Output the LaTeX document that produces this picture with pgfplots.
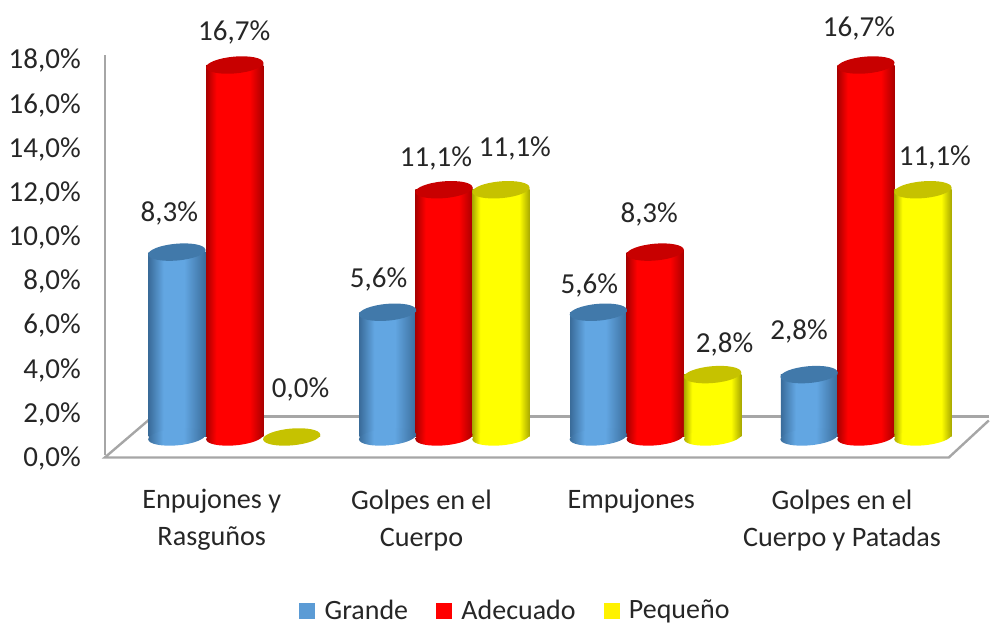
\documentclass[border=0pt]{standalone}
\usepackage{pgfplots}
\usepackage{pgfplotstable}
\usepackage{fontspec}
\setmainfont{Carlito}
\pgfplotsset{compat=1.18}
\definecolor{wallgray}{HTML}{A6A6A6}
\definecolor{txt}{HTML}{262626}
\definecolor{legblue}{HTML}{5B9BD5}
\definecolor{bmid}{HTML}{62A6E2}
\definecolor{bedge}{HTML}{3A6C9A}
\definecolor{btop}{HTML}{4179AA}
\definecolor{rmid}{HTML}{FF0000}
\definecolor{redge}{HTML}{A80000}
\definecolor{rtop}{HTML}{C80000}
\definecolor{ymid}{HTML}{FFFF00}
\definecolor{yedge}{HTML}{A8A800}
\definecolor{ytop}{HTML}{C6C200}
\pgfdeclarehorizontalshading{cylblue}{100bp}{color(0bp)=(bedge);color(25bp)=(bedge);color(38bp)=(bmid);color(56bp)=(bmid);color(75bp)=(bedge);color(100bp)=(bedge)}
\pgfdeclarehorizontalshading{cylred}{100bp}{color(0bp)=(redge);color(25bp)=(redge);color(34bp)=(rmid);color(63bp)=(rmid);color(75bp)=(redge);color(100bp)=(redge)}
\pgfdeclarehorizontalshading{cylyellow}{100bp}{color(0bp)=(yedge);color(25bp)=(yedge);color(32bp)=(ymid);color(66bp)=(ymid);color(75bp)=(yedge);color(100bp)=(yedge)}
% tilted ellipse as four Bezier segments
\newcommand{\cylpath}{(28.6pt,2.5pt) .. controls (28.2pt,7.12pt) and (15.07pt,9.75pt) .. (-0.73pt,8.37pt)
  .. controls (-16.53pt,6.99pt) and (-29pt,2.12pt) .. (-28.6pt,-2.5pt)
  .. controls (-28.2pt,-7.12pt) and (-15.07pt,-9.75pt) .. (0.73pt,-8.37pt)
  .. controls (16.53pt,-6.99pt) and (29pt,-2.12pt) .. (28.6pt,2.5pt) -- cycle}
\newcommand{\declcyl}[2]{%
  \pgfdeclareplotmark{base#1}{\path[draw=none,shading=cyl#1] \cylpath;}%
  \pgfdeclareplotmark{top#1}{%
    \path[draw=none,shading=cyl#1] (-28.6pt,0pt) -- (28.6pt,0pt) -- (28.6pt,2.5pt) -- cycle;
    \path[draw=none,fill=#2] \cylpath;}%
}
\declcyl{blue}{btop}
\declcyl{red}{rtop}
\declcyl{yellow}{ytop}
\pgfplotstableread{
x     v    dx     dy
177   8.3  -7.5   38.5
388   5.6  -9    32.5
599   5.6  -9    26.5
810   2.8  -10    43.5
}\grande
\pgfplotstableread{
x     v    dx     dy
235   16.7 -0.5   32.5
444.5 11.1 -8   31.5
656   8.3  -6     37.5
867   16.7 -7     36.5
}\adecuado
\pgfplotstableread{
x     v    dx     dy
292   0.0  9      47.5
501.5 11.1 14   41.5
713.5 2.8  12   30.5
924   11.1 12     32.5
}\pequeno
\pgfplotsset{
  toplabels/.style={
    only marks,
    visualization depends on={\thisrow{dx} \as \lblx},
    visualization depends on={\thisrow{dy} \as \lbly},
    nodes near coords={\pgfmathprintnumber[fixed,fixed zerofill,precision=1,use comma,assume math mode=true]{\pgfplotspointmeta}\%},
    every node near coord/.append style={anchor=center,inner sep=0pt,text=txt,font=\fontsize{29}{31}\selectfont,xshift=\lblx pt,yshift=\lbly pt},
  },
  cylbar/.style={ybar,forget plot,bar width=57.4pt,bar shift=0pt,draw=none,shading=cyl#1},
  basemark/.style={only marks,forget plot,mark=base#1},
}
\begin{document}
\begin{tikzpicture}
% value axis on the wall
\begin{axis}[
  at={(105pt,172pt)},anchor=south west,scale only axis,
  width=1pt,height=401.3pt,
  xmin=0,xmax=1,ymin=0,ymax=18.15,
  axis x line=none,axis y line=left,
  y axis line style={draw=wallgray,line width=2.4pt,-},
  ytick={0,2,...,18},major tick length=0pt,
  yticklabel={\pgfmathprintnumber[fixed,fixed zerofill,precision=1,use comma,assume math mode=true]{\tick}\%},
  yticklabel style={font=\fontsize{29}{31}\selectfont,text=txt,anchor=east,inner sep=0pt,xshift=-24pt,yshift=-3pt},
]
\end{axis}
% main axis: x in picture units, y in percent
\begin{axis}[
  at={(0pt,0pt)},anchor=south west,scale only axis,
  width=990pt,height=628pt,
  xmin=0,xmax=990,ymin=-8.543,ymax=19.62,
  axis line style={draw=none},tick style={draw=none},major tick length=0pt,
  ytick=\empty,
  xtick={212,422,632,843},
  xticklabels={{Enpujones y\\Rasguños},{Golpes en el\\Cuerpo},{Empujones},{Golpes en el\\Cuerpo y Patadas}},
  xticklabel style={align=center,anchor=north,text=txt,inner sep=0pt,
    font=\fontsize{28.2}{37}\selectfont,yshift=138pt},
  clip=false,
  legend columns=-1,
  legend style={at={(axis cs:516,-7.78)},anchor=center,draw=none,fill=none,inner sep=0pt,outer sep=0pt,
    font=\fontsize{28}{30}\selectfont,text=txt,
    /tikz/every even column/.append style={column sep=26pt}},
  legend cell align=left,
]
\addlegendimage{legend image code/.code={\fill[legblue] (0pt,-7.5pt) rectangle (15pt,7.5pt); \path (23pt,0pt);}}
\addlegendentry{Grande}
\addlegendimage{legend image code/.code={\fill[red] (0pt,-7.5pt) rectangle (15pt,7.5pt); \path (23pt,0pt);}}
\addlegendentry{Adecuado}
\addlegendimage{legend image code/.code={\fill[yellow] (0pt,-7.5pt) rectangle (15pt,7.5pt); \path (23pt,0pt);}}
\addlegendentry{Pequeño}
% floor
\addplot[forget plot,draw=wallgray,line width=2.4pt] coordinates {(153,0.92) (990,0.92)};
\addplot[forget plot,draw=wallgray,line width=2.4pt] coordinates {(153,0.92) (105,-0.92) (950,-0.92) (990,0.74)};
% Grande
\addplot[basemark=blue] table[x=x,y expr=0] {\grande};
\addplot[cylbar=blue] coordinates {(177.5,8.3)};
\addplot[cylbar=blue] coordinates {(388.5,5.6)};
\addplot[cylbar=blue] coordinates {(599.5,5.6)};
\addplot[cylbar=blue] coordinates {(810.5,2.8)};
\addplot[toplabels,forget plot,mark=topblue] table[x=x,y=v] {\grande};
% Adecuado
\addplot[basemark=red] table[x=x,y expr=0] {\adecuado};
\addplot[cylbar=red] coordinates {(235,16.7)};
\addplot[cylbar=red] coordinates {(444.5,11.1)};
\addplot[cylbar=red] coordinates {(656,8.3)};
\addplot[cylbar=red] coordinates {(867,16.7)};
\addplot[toplabels,forget plot,mark=topred] table[x=x,y=v] {\adecuado};
% Pequeño
\addplot[basemark=yellow] table[x=x,y expr=0,skip coords between index={0}{1}] {\pequeno};
\addplot[cylbar=yellow] coordinates {(501.5,11.1)};
\addplot[cylbar=yellow] coordinates {(713.5,2.8)};
\addplot[cylbar=yellow] coordinates {(924,11.1)};
\addplot[toplabels,forget plot,mark=topyellow] table[x=x,y=v] {\pequeno};
\end{axis}
\end{tikzpicture}
\end{document}
